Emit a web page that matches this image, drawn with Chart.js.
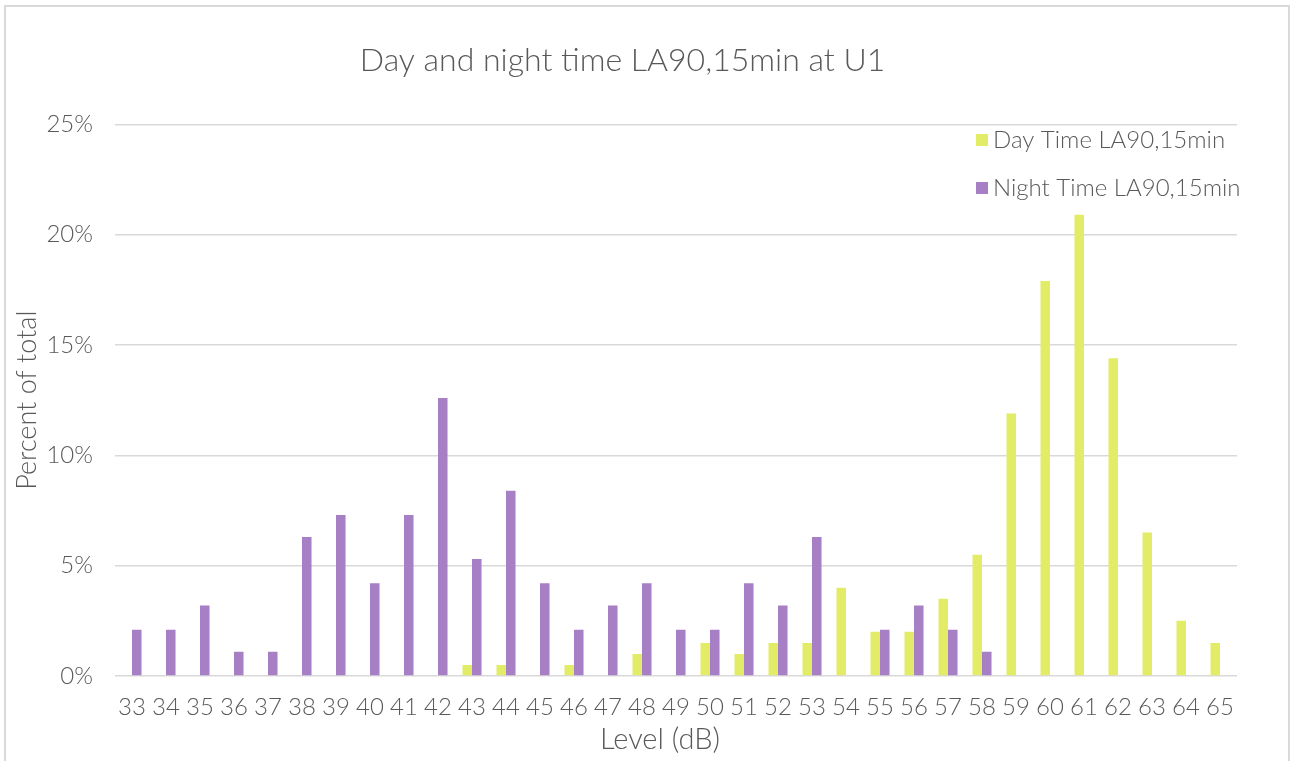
<!DOCTYPE html>
<html>
<head>
<meta charset="utf-8">
<script src="https://cdn.jsdelivr.net/npm/chart.js@4/dist/chart.umd.min.js"></script>
<style>
  html, body { margin: 0; padding: 0; background: #fff; }
  #wrap { width: 1291px; height: 761px; }
</style>
</head>
<body>
<div id="wrap"><canvas id="chart" width="1291" height="761"></canvas></div>
<script>
// levels in dB
const levels = ["33","34","35","36","37","38","39","40","41","42","43","44","45","46","47","48","49",
                "50","51","52","53","54","55","56","57","58","59","60","61","62","63","64","65"];

// percent of total, day time
const dayValues = [0,0,0,0,0,0,0,0,0,0,0.5,0.5,0,0.5,0,1.0,0,
                   1.5,1.0,1.5,1.5,4.0,2.0,2.0,3.5,5.5,11.9,17.9,20.9,14.4,6.5,2.5,1.5];

// percent of total, night time
const nightValues = [2.1,2.1,3.2,1.1,1.1,6.3,7.3,4.2,7.3,12.6,5.3,8.4,4.2,2.1,3.2,4.2,2.1,
                     2.1,4.2,3.2,6.3,0,2.1,3.2,2.1,1.1,0,0,0,0,0,0,0];

const yTicks = [0, 5, 10, 15, 20, 25];

const xTitle = "Level (dB)";

const textGrey = "#595959";
const fontName = "Lato";

// рамка вокруг всего
const frame = {
    id: "frame",
    beforeDraw(chart) {
        const c = chart.ctx;
        c.save();
        c.strokeStyle = "#d9d9d9";
        c.lineWidth = 2;
        c.strokeRect(5, 6, 1284, 800);
        c.restore();
    }
};

// legend inside the plot, top right + x axis title (sits a bit left of centre, like the original)
const insideLegend = {
    id: "insideLegend",
    afterDraw(chart) {
        const c = chart.ctx;
        const ds = chart.data.datasets;
        c.save();
        c.font = "300 24px " + fontName;
        c.textBaseline = "middle";
        ds.forEach((d, i) => {
            const y = 140 + i * 48;
            c.fillStyle = d.backgroundColor;
            c.fillRect(976, y - 6, 12, 12);
            c.fillStyle = textGrey;
            c.fillText(d.label, 993, y);
        });
        c.font = "300 29px " + fontName;
        c.textAlign = "center";
        c.fillText(xTitle, 660, 740);
        c.restore();
    }
};

new Chart(document.getElementById("chart"), {
    type: "bar",
    data: {
        labels: levels,
        datasets: [
            { label: "Day Time LA90,15min", data: dayValues, backgroundColor: "#e2ec66" },
            { label: "Night Time LA90,15min", data: nightValues, backgroundColor: "#a77fc5" }
        ]
    },
    options: {
        responsive: false,
        animation: false,
        layout: { padding: { left: 8, right: 54, top: 41, bottom: 4 } },
        datasets: { bar: { categoryPercentage: 0.56, barPercentage: 1 } },
        plugins: {
            legend: { display: false },
            tooltip: { enabled: false },
            title: {
                display: true,
                text: "Day and night time LA90,15min at U1",
                color: textGrey,
                font: { family: fontName, size: 32, weight: "300" },
                padding: { top: 0, bottom: 45 }
            }
        },
        scales: {
            x: {
                grid: { display: false, drawTicks: false },
                border: { display: false },
                ticks: { color: textGrey, font: { family: fontName, size: 24, weight: "300" }, padding: 17, maxRotation: 0, autoSkip: false },
                afterFit(scale) { scale.height = 81; }
            },
            y: {
                min: 0,
                max: 25,
                afterBuildTicks(scale) { scale.ticks = yTicks.map(v => ({ value: v })); },
                grid: { color: "#d9d9d9", lineWidth: 1.5, drawTicks: false },
                border: { display: false },
                ticks: { color: textGrey, font: { family: fontName, size: 24, weight: "300" }, padding: 22, callback: v => v + "%" },
                title: { display: true, text: "Percent of total", color: textGrey, font: { family: fontName, size: 27, weight: "300" }, padding: { top: 3 } },
                afterFit(scale) { scale.width = 107; }
            }
        }
    },
    plugins: [frame, insideLegend]
});
</script>
</body>
</html>
